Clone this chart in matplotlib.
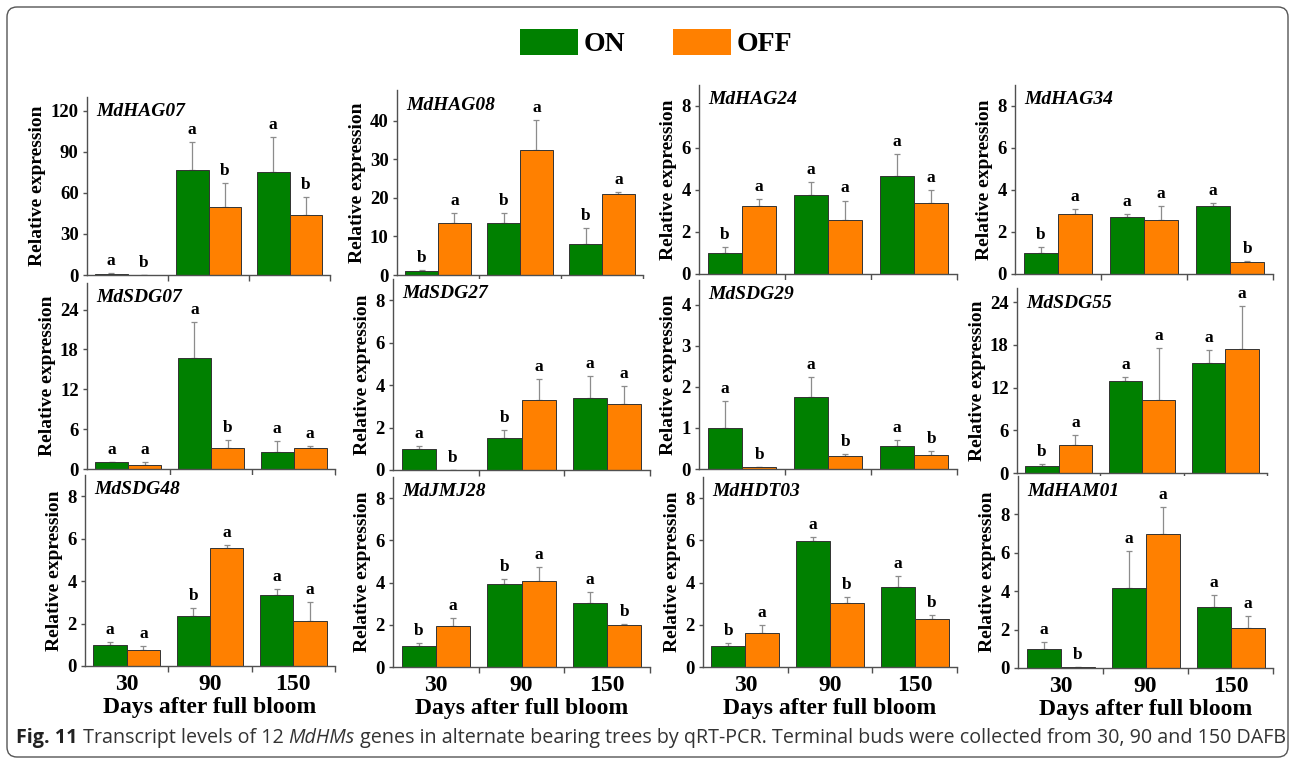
import numpy as np
import matplotlib.pyplot as plt
from matplotlib.patches import Patch, FancyBboxPatch
from matplotlib.transforms import IdentityTransform

plt.rcParams['font.family'] = ['Liberation Serif', 'DejaVu Serif']
plt.rcParams['font.weight'] = 'bold'

# Data
days = ['30', '90', '150']
genes = ['MdHAG07', 'MdHAG08', 'MdHAG24', 'MdHAG34',
         'MdSDG07', 'MdSDG27', 'MdSDG29', 'MdSDG55',
         'MdSDG48', 'MdJMJ28', 'MdHDT03', 'MdHAM01']

on_mean = [[1.0, 77, 75.5], [1.0, 13.5, 8.0], [1.0, 3.75, 4.65], [1.0, 2.7, 3.25],
           [1.0, 16.7, 2.6], [1.0, 1.5, 3.4], [1.0, 1.75, 0.55], [1.0, 13.0, 15.5],
           [1.0, 2.35, 3.35], [1.0, 3.95, 3.05], [1.0, 5.97, 3.8], [1.0, 4.15, 3.2]]
off_mean = [[0.1, 49.5, 44], [13.5, 32.5, 21.0], [3.25, 2.55, 3.4], [2.85, 2.55, 0.55],
            [0.6, 3.2, 3.1], [0.0, 3.3, 3.1], [0.05, 0.32, 0.33], [4.0, 10.2, 17.4],
            [0.75, 5.55, 2.1], [1.92, 4.08, 1.97], [1.63, 3.03, 2.27], [0.05, 7.0, 2.1]]
on_err = [[0.3, 20, 25], [0.3, 2.6, 4.2], [0.3, 0.65, 1.05], [0.3, 0.15, 0.12],
          [0.1, 5.4, 1.6], [0.15, 0.4, 1.05], [0.65, 0.48, 0.15], [0.25, 0.5, 1.8],
          [0.12, 0.4, 0.28], [0.12, 0.2, 0.5], [0.15, 0.18, 0.5], [0.35, 1.95, 0.58]]
off_err = [[0.0, 18, 13], [2.6, 7.8, 0.5], [0.3, 0.95, 0.6], [0.25, 0.68, 0.08],
           [0.4, 1.1, 0.3], [0.0, 1.0, 0.85], [0.01, 0.05, 0.1], [1.4, 7.3, 6.1],
           [0.18, 0.15, 0.9], [0.4, 0.65, 0.05], [0.35, 0.28, 0.17], [0.02, 1.4, 0.6]]
on_sig = [['a', 'a', 'a'], ['b', 'b', 'b'], ['b', 'a', 'a'], ['b', 'a', 'a'],
          ['a', 'a', 'a'], ['a', 'b', 'a'], ['a', 'a', 'a'], ['b', 'a', 'a'],
          ['a', 'b', 'a'], ['b', 'b', 'a'], ['b', 'a', 'a'], ['a', 'a', 'a']]
off_sig = [['b', 'b', 'b'], ['a', 'a', 'a'], ['a', 'a', 'a'], ['a', 'a', 'b'],
           ['a', 'b', 'a'], ['b', 'a', 'a'], ['b', 'b', 'b'], ['a', 'a', 'a'],
           ['a', 'a', 'a'], ['a', 'a', 'b'], ['a', 'b', 'b'], ['b', 'a', 'a']]

# Layout: axes boxes in pixels (left, right, bottom, top), y from the top
W, H = 1295, 764
boxes = [(87, 330, 275, 97), (397, 643, 275, 90), (699, 957, 274, 85), (1015, 1273, 274, 85),
         (87, 335, 469, 283), (393, 650, 470, 279), (699, 957, 469, 280), (1017, 1267, 473, 288),
         (85, 335, 666, 475), (393, 650, 667, 477), (703, 957, 667, 477), (1018, 1273, 668, 476)]
ylims = [130, 48, 9, 9, 28, 9, 4.6, 26, 9, 9, 9, 10]
ysteps = [30, 10, 2, 2, 6, 2, 1, 6, 2, 2, 2, 2]
ytick_max = [120, 40, 8, 8, 24, 8, 4, 24, 8, 8, 8, 8]

GREEN = '#008000'
ORANGE = '#ff8000'
AXC = '#505050'
w = 0.4

fig = plt.figure(figsize=(W / 100, H / 100), dpi=100)

for i, g in enumerate(genes):
    l, r, b, t = boxes[i]
    ax = fig.add_axes([l / W, 1 - b / H, (r - l) / W, (b - t) / H])
    x = np.arange(3)
    for dx, mean, err, sig, col in [(-w / 2, on_mean[i], on_err[i], on_sig[i], GREEN),
                                    (w / 2, off_mean[i], off_err[i], off_sig[i], ORANGE)]:
        ax.bar(x + dx, mean, w, color=col, edgecolor='#333333', linewidth=0.7, zorder=2)
        ax.errorbar(x + dx, mean, yerr=[np.zeros(3), err], fmt='none', ecolor='#8c8c8c',
                    elinewidth=0.9, capsize=2, capthick=0.9, zorder=1)
        for xi, m, e, s in zip(x + dx, mean, err, sig):
            ax.annotate(s, (xi, m + e), xytext=(0, 4), textcoords='offset pixels',
                        ha='center', va='bottom', fontsize=12.5, fontweight='bold')

    ax.set_xlim(-0.5, 2.5)
    ax.set_ylim(0, ylims[i])
    ax.set_yticks(np.arange(0, ytick_max[i] + 1e-9, ysteps[i]))
    ax.tick_params(axis='y', direction='out', length=3, width=1, color=AXC,
                   labelsize=13.5, pad=3)
    ax.set_xticks(x)
    ax.set_xticks([0.5, 1.5, 2.5], minor=True)
    ax.tick_params(axis='x', which='major', length=0, labelsize=17, pad=6)
    ax.tick_params(axis='x', which='minor', direction='out', length=4, width=1, color=AXC)
    for sp in ['top', 'right']:
        ax.spines[sp].set_visible(False)
    for sp in ['left', 'bottom']:
        ax.spines[sp].set_color(AXC)
        ax.spines[sp].set_linewidth(1)
    ax.set_ylabel('Relative expression', fontsize=14, fontweight='bold', labelpad=3)
    if i >= 8:
        ax.set_xticklabels(days)
        ax.set_xlabel('Days after full bloom', fontsize=17, fontweight='bold', labelpad=1)
    else:
        ax.set_xticklabels([])
    ax.annotate(g, (0, 1), xycoords='axes fraction', xytext=(9, -15),
                textcoords='offset pixels', ha='left', va='center',
                fontsize=14, fontweight='bold', fontstyle='italic')

# Legend
handles = [Patch(facecolor=GREEN, label='ON'), Patch(facecolor=ORANGE, label='OFF')]
fig.legend(handles=handles, loc='center', bbox_to_anchor=(656 / W, 1 - 43 / H), ncol=2,
           frameon=False, prop={'family': 'Liberation Serif', 'weight': 'bold', 'size': 20},
           handlelength=2.1, handleheight=1.08, handletextpad=0.2, columnspacing=1.7,
           borderpad=0, borderaxespad=0)

# Caption
renderer = fig.canvas.get_renderer()
parts = [('Fig. 11', dict(fontweight='bold', color='#222222')),
         (' Transcript levels of 12 ', dict(fontweight='normal', color='#333333')),
         ('MdHMs', dict(fontweight='normal', fontstyle='italic', color='#333333')),
         (' genes in alternate bearing trees by qRT-PCR. Terminal buds were collected '
          'from 30, 90 and 150 DAFB', dict(fontweight='normal', color='#333333'))]
cx = 16 / W
for s, kw in parts:
    txt = fig.text(cx, 1 - 743 / H, s, va='baseline', ha='left', fontsize=14.2,
                   family=['Open Sans', 'DejaVu Sans'], **kw)
    cx += txt.get_window_extent(renderer).width / W

# Rounded outer frame
frame = FancyBboxPatch((7, 7), W - 14, H - 14, boxstyle='round,pad=0,rounding_size=10',
                       transform=IdentityTransform(), fill=False, edgecolor='#555555',
                       linewidth=1)
fig.add_artist(frame)

fig.savefig('out.png', dpi=100)
